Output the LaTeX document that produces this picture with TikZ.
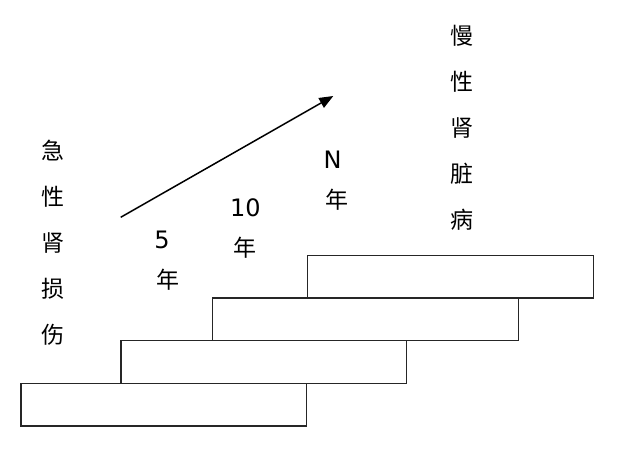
\documentclass[tikz,border=0pt]{standalone}
\usepackage{fontspec}
\setmainfont{Noto Sans CJK SC}
\newfontfamily\latinfont{DejaVu Sans}
\usetikzlibrary{arrows.meta}
\begin{document}
\begin{tikzpicture}[x=1pt,y=-1pt,
  stepbox/.style={draw=black!85,line width=1.3pt,inner sep=0pt,outer sep=0pt,minimum height=42.7pt},
  lbl/.style={inner sep=0pt,font=\fontsize{23}{23}\selectfont},
  dlbl/.style={inner sep=0pt,font=\latinfont\fontsize{24}{24}\selectfont},
  vlbl/.style={inner sep=0pt,font=\fontsize{23}{46}\selectfont,align=center},
  arr/.style={line width=1.5pt,-{Triangle[length=14pt,width=11pt]}}]
\useasboundingbox (0,0) rectangle (640,458);
\node[stepbox,minimum width=285.7pt] (b1) at (163.9,404.7) {};
\node[stepbox,minimum width=285.7pt] (b2) at (263.9,362.0) {};
\node[stepbox,minimum width=306.4pt] (b3) at (365.5,319.3) {};
\node[stepbox,minimum width=286.0pt] (b4) at (450.7,276.5) {};
\coordinate (s) at (120.7,217.3);
\coordinate (t) at (333.3,96);
\draw[arr] (s) -- (t);
\node[vlbl] (aki) at (53.3,243) {急\\性\\肾\\损\\伤};
\node[vlbl] (ckd) at (461.5,128) {慢\\性\\肾\\脏\\病};
\node[dlbl] (y5) at (162,239.5) {5};
\node[lbl] (n5) at (167.5,279.5) {年};
\node[dlbl] (y10) at (245.5,207.5) {10};
\node[lbl] (n10) at (244.5,247.5) {年};
\node[dlbl] (yN) at (332.5,160) {N};
\node[lbl] (nN) at (337,200) {年};
\end{tikzpicture}
\end{document}
